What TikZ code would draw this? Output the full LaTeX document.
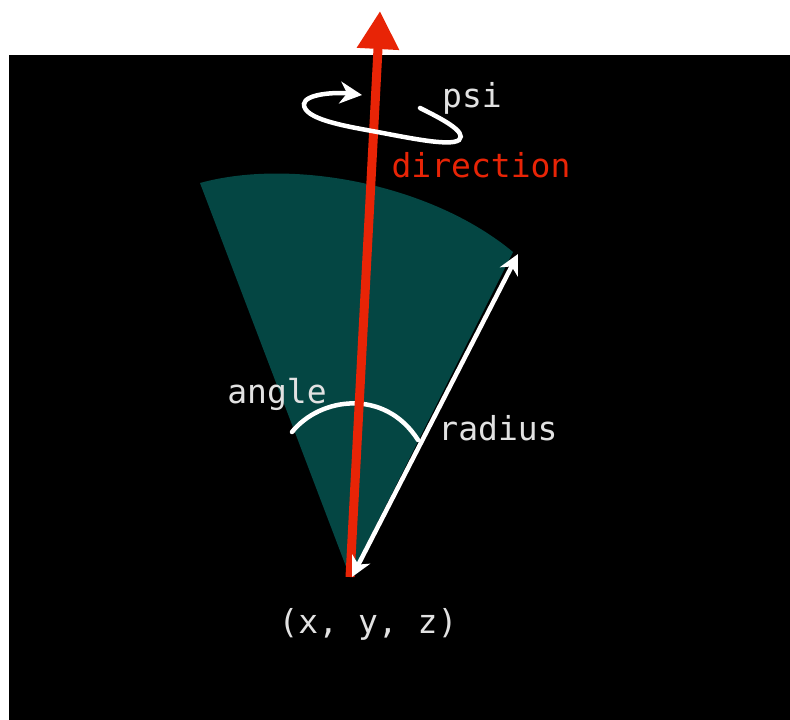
\documentclass[tikz,border=0pt]{standalone}
\usepackage{fontspec}
\setmonofont{DejaVu Sans Mono}
\usetikzlibrary{arrows.meta}
\definecolor{sectorteal}{RGB}{4,70,67}
\definecolor{dirred}{RGB}{232,36,6}
\definecolor{labelgray}{RGB}{226,226,226}
\tikzset{
  lbl/.style={font=\ttfamily\fontsize{33bp}{33bp}\selectfont, text=labelgray, anchor=base, inner sep=0pt},
  whiteline/.style={draw=white, line width=4.5bp, line cap=round},
  wtip/.tip={Stealth[length=20bp,width=20bp,inset=6bp]},
  ptip/.tip={Stealth[length=22bp,width=22bp,inset=7bp]}
}
\begin{document}
\begin{tikzpicture}[x=1bp,y=-1bp]
\useasboundingbox (0,0) rectangle (790,720);
\fill[white] (0,0) rectangle (790,720);
\fill[black] (9,55) rectangle (790,720);
% key points
\coordinate (O) at (350,577);
\coordinate (Ow) at (352,577);
\coordinate (L) at (200,183);
\coordinate (Rs) at (513,252);
\coordinate (R) at (518,254);
\coordinate (D) at (380,11);
\coordinate (A1) at (292,432);
\coordinate (A2) at (418,440);
\coordinate (P0) at (420,108);
\coordinate (P4) at (362,95);
% sector
\fill[sectorteal] (O) -- (L) .. controls (290,158) and (430,183) .. (Rs) -- cycle;
% angle arc
\draw[whiteline] (A1) .. controls (320,397) and (385,388) .. (A2);
% direction arrow
\draw[draw=dirred, line width=9bp, -{Triangle[width=40bp,length=38bp]}, color=dirred] (O) -- (D);
% radius arrow
\draw[whiteline, line cap=butt, wtip-wtip] (Ow) -- (R);
% psi rotation
\draw[whiteline, -ptip] (P0) .. controls (440,118) and (468,132) .. (459,140)
  .. controls (450,147) and (405,137) .. (372,131)
  .. controls (345,126) and (303,119) .. (304,104)
  .. controls (305,94) and (335,92) .. (P4);
% labels
\node[lbl] (psi) at (472,108) {psi};
\node[lbl, text=dirred] (dir) at (481,177) {direction};
\node[lbl] (ang) at (277,403) {angle};
\node[lbl] (rad) at (498,440) {radius};
\node[lbl] (xyz) at (368,633) {(x, y, z)};
\end{tikzpicture}
\end{document}
